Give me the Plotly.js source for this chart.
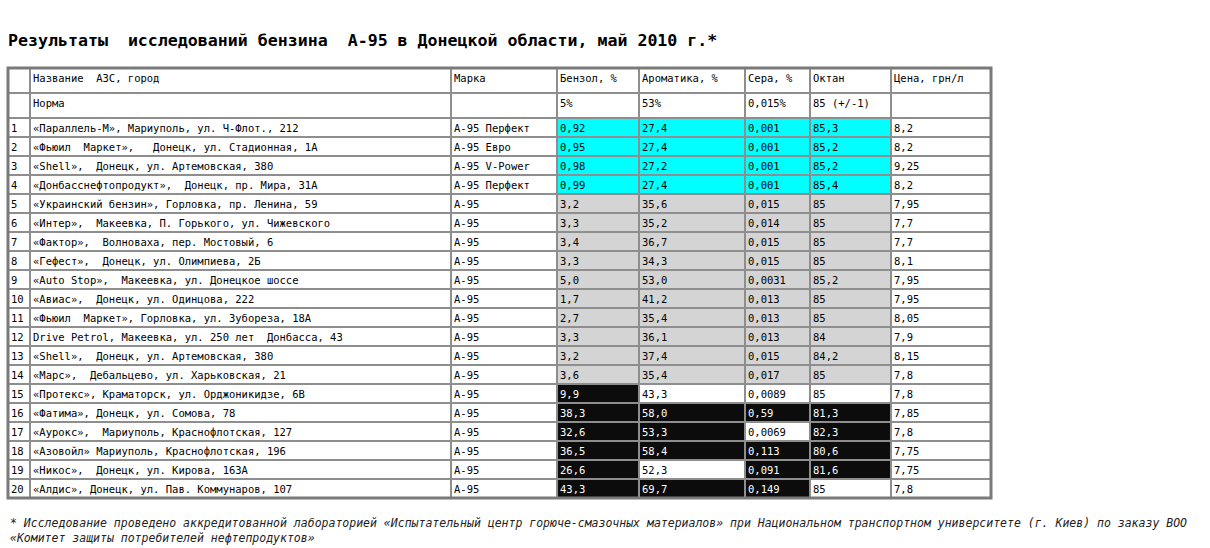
<!DOCTYPE html>
<html>
<head>
<meta charset="utf-8">
<script src="https://cdn.plot.ly/plotly-3.0.1.min.js"></script>
<style>html,body{margin:0;padding:0;background:#fff;}#chart{width:1210px;height:548px;}</style>
</head>
<body>
<div id="chart"></div>
<script>
// ---- data ----
var columnHeaders = ["", "Название  АЗС, город", "Марка", "Бензол, %", "Ароматика, %", "Сера, %", "Октан", "Цена, грн/л"];
var normRow = ["", "Норма", "", "5%", "53%", "0,015%", "85 (+/-1)", ""];
var rowNumbers = ["1","2","3","4","5","6","7","8","9","10","11","12","13","14","15","16","17","18","19","20"];
var stations = [
  "«Параллель-М», Мариуполь, ул. Ч-Флот., 212",
  "«Фьюил  Маркет»,   Донецк, ул. Стадионная, 1А",
  "«Shell»,  Донецк, ул. Артемовская, 380",
  "«Донбасснефтопродукт»,  Донецк, пр. Мира, 31А",
  "«Украинский бензин», Горловка, пр. Ленина, 59",
  "«Интер»,  Макеевка, П. Горького, ул. Чижевского",
  "«Фактор»,  Волноваха, пер. Мостовый, 6",
  "«Гефест»,  Донецк, ул. Олимпиева, 2Б",
  "«Auto Stop»,  Макеевка, ул. Донецкое шоссе",
  "«Авиас»,  Донецк, ул. Одинцова, 222",
  "«Фьюил  Маркет», Горловка, ул. Зубореза, 18А",
  "Drive Petrol, Макеевка, ул. 250 лет  Донбасса, 43",
  "«Shell»,  Донецк, ул. Артемовская, 380",
  "«Марс»,  Дебальцево, ул. Харьковская, 21",
  "«Протекс», Краматорск, ул. Орджоникидзе, 6В",
  "«Фатима», Донецк, ул. Сомова, 78",
  "«Аурокс»,  Мариуполь, Краснофлотская, 127",
  "«Азовойл» Мариуполь, Краснофлотская, 196",
  "«Никос»,  Донецк, ул. Кирова, 163А",
  "«Алдис», Донецк, ул. Пав. Коммунаров, 107"
];
var brands = ["А-95 Перфект","А-95 Евро","А-95 V-Power","А-95 Перфект","А-95","А-95","А-95","А-95","А-95","А-95","А-95","А-95","А-95","А-95","А-95","А-95","А-95","А-95","А-95","А-95"];
var benzene = ["0,92","0,95","0,98","0,99","3,2","3,3","3,4","3,3","5,0","1,7","2,7","3,3","3,2","3,6","9,9","38,3","32,6","36,5","26,6","43,3"];
var aromatics = ["27,4","27,4","27,2","27,4","35,6","35,2","36,7","34,3","53,0","41,2","35,4","36,1","37,4","35,4","43,3","58,0","53,3","58,4","52,3","69,7"];
var sulfur = ["0,001","0,001","0,001","0,001","0,015","0,014","0,015","0,015","0,0031","0,013","0,013","0,013","0,015","0,017","0,0089","0,59","0,0069","0,113","0,091","0,149"];
var octane = ["85,3","85,2","85,2","85,4","85","85","85","85","85,2","85","85","84","84,2","85","85","81,3","82,3","80,6","81,6","85"];
var price = ["8,2","8,2","9,25","8,2","7,95","7,7","7,7","8,1","7,95","7,95","8,05","7,9","8,15","7,8","7,8","7,85","7,8","7,75","7,75","7,8"];
// assessment per row for [benzene, aromatics, sulfur, octane]: c = best, g = within norm, b = violation, w = unmarked
var assessment = ["cccc","cccc","cccc","cccc","gggg","gggg","gggg","gggg","gggg","gggg","gggg","gggg","gggg","gggg","bwww","bbbb","bbwb","bbbb","bwbb","bbbw"];

// ---- styles ----
var FILL = {c: "#00ffff", g: "#d4d4d4", b: "#0c0c0c", w: "#ffffff"};
var TXT = {c: "#000000", g: "#000000", b: "#ffffff", w: "#000000"};
function nb(s) { return String(s).replace(/ /g, "\u00a0"); }

var cols = [rowNumbers, stations, brands, benzene, aromatics, sulfur, octane, price].map(function (c) { return c.map(nb); });
var fillCols = [], fontCols = [];
for (var ci = 0; ci < cols.length; ci++) {
  var f = [], t = [];
  for (var ri = 0; ri < rowNumbers.length; ri++) {
    if (ci >= 3 && ci <= 6) {
      var k = assessment[ri].charAt(ci - 3);
      f.push(FILL[k]); t.push(TXT[k]);
    } else { f.push("#ffffff"); t.push("#000000"); }
  }
  fillCols.push(f); fontCols.push(t);
}
var headerVals = columnHeaders.map(function (h, i) { return [nb(h), nb(normRow[i])]; });
var emptyHeader = headerVals.map(function (c) { return c.map(function () { return ""; }); });
var emptyCells = cols.map(function (c) { return c.map(function () { return ""; }); });

var W = 1210, H = 548;
var x0 = 8, x1 = 991, y0 = 68, y1 = 498;
var SHIFT = 5; // text padding correction (px)
var FONT = "DejaVu Sans Mono, monospace";
var widths = [22, 421, 106, 82, 106, 65, 81, 100];
var LINE = "#8e8e8e";

// grid + fills
var grid = {
  type: "table",
  domain: {x: [x0 / W, x1 / W], y: [1 - y1 / H, 1 - y0 / H]},
  columnwidth: widths,
  header: {values: emptyHeader, height: 25, fill: {color: "#ffffff"}, line: {color: LINE, width: 2}},
  cells: {values: emptyCells, height: 19, fill: {color: fillCols}, line: {color: LINE, width: 2}}
};
// texts
var texts = {
  type: "table",
  domain: {x: [(x0 - SHIFT) / W, (x1 - SHIFT) / W], y: [1 - (y1 + 1) / H, 1 - (y0 - 2) / H]},
  columnwidth: widths,
  header: {
    values: headerVals, align: "left", height: 25,
    fill: {color: "rgba(0,0,0,0)"}, line: {color: "rgba(0,0,0,0)", width: 0},
    font: {family: FONT, size: 10.5, color: "#000000"}
  },
  cells: {
    values: cols, align: "left", height: 19,
    fill: {color: "rgba(0,0,0,0)"}, line: {color: "rgba(0,0,0,0)", width: 0},
    font: {family: FONT, size: 10.5, color: fontCols}
  }
};

var layout = {
  width: W, height: H,
  margin: {l: 0, r: 0, t: 0, b: 0},
  paper_bgcolor: "#ffffff",
  title: {
    text: "<b>Результаты  исследований бензина  А-95 в Донецкой области, май 2010 г.*</b>",
    xref: "container", yref: "container", x: 8 / W, xanchor: "left", y: 1 - 40 / H, yanchor: "middle",
    font: {family: FONT, size: 16.6, color: "#000000"}
  },
  shapes: [{
    type: "rect", xref: "paper", yref: "paper",
    x0: x0 / W, x1: x1 / W, y0: 1 - y1 / H, y1: 1 - y0 / H,
    line: {color: "#7a7a7a", width: 3}
  }],
  annotations: [{
    xref: "paper", yref: "paper", x: 8 / W, y: 1 - 530 / H, xanchor: "left", yanchor: "middle",
    align: "left", showarrow: false,
    text: "<i>* Исследование проведено аккредитованной лабораторией «Испытательный центр горюче-смазочных материалов» при Национальном транспортном университете (г. Киев) по заказу ВОО<br>«Комитет защиты потребителей нефтепродуктов»</i>",
    font: {family: FONT, size: 11.5, color: "#222222"}
  }]
};

Plotly.newPlot("chart", [grid, texts], layout, {displayModeBar: false, staticPlot: true});
</script>
</body>
</html>
